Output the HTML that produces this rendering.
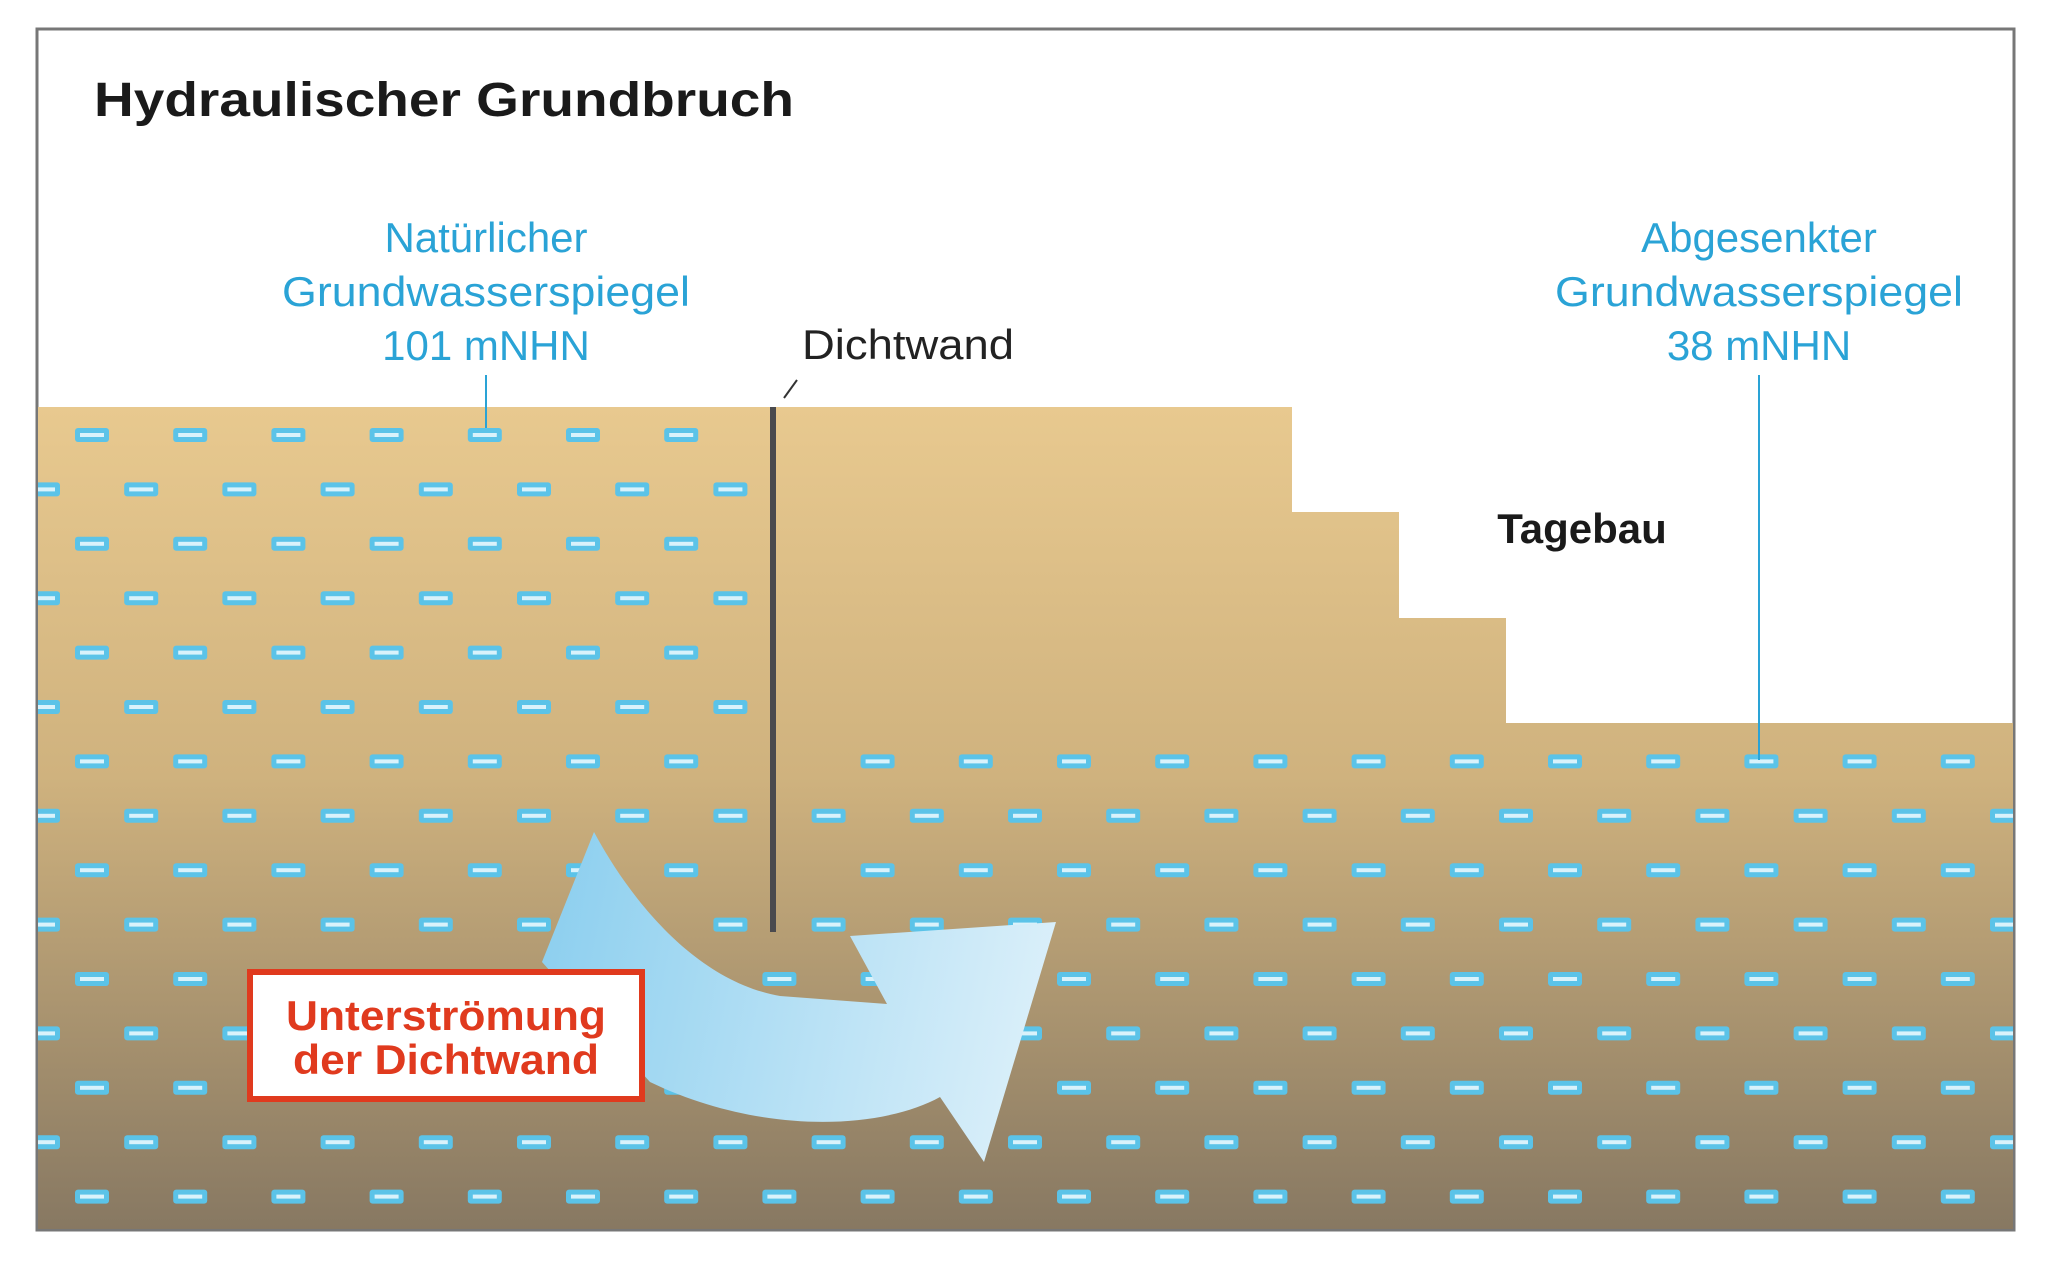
<!DOCTYPE html>
<html><head><meta charset="utf-8"><style>
html,body{margin:0;padding:0;background:#fff;}
svg{display:block;}
text{font-family:"Liberation Sans",Arial,sans-serif;}
</style></head><body>
<svg id="s" width="2048" height="1270" viewBox="0 0 2048 1270" xmlns="http://www.w3.org/2000/svg">
<defs>
<linearGradient id="g" x1="0" y1="407" x2="0" y2="1230" gradientUnits="userSpaceOnUse">
<stop offset="0" stop-color="#e8c98f"/>
<stop offset="0.45" stop-color="#cfb27e"/>
<stop offset="1" stop-color="#877862"/>
</linearGradient>
<linearGradient id="a" x1="560" y1="900" x2="1060" y2="1000" gradientUnits="userSpaceOnUse">
<stop offset="0" stop-color="#8fd0ef"/>
<stop offset="1" stop-color="#dcf0fa"/>
</linearGradient>
<clipPath id="cl"><rect x="38" y="300" width="1975" height="929"/></clipPath>
</defs>
<rect x="37" y="29" width="1977" height="1201" fill="#fff" stroke="#777" stroke-width="3"/>
<path d="M38,407 L1292,407 L1292,512 L1399,512 L1399,618 L1506,618 L1506,723 L2013,723 L2013,1229 L38,1229 Z" fill="url(#g)"/>
<g id="dashes" clip-path="url(#cl)"></g>
<line x1="773" y1="407" x2="773" y2="932" stroke="#4a4a4e" stroke-width="6"/>
<line x1="797" y1="380" x2="784" y2="398" stroke="#333" stroke-width="2"/>
<line x1="486" y1="375" x2="486" y2="428" stroke="#2aa3d6" stroke-width="2"/>
<line x1="1759" y1="375" x2="1759" y2="760" stroke="#2aa3d6" stroke-width="2"/>
<text x="94" y="116" font-size="48" font-weight="bold" fill="#1a1a1a" textLength="700" lengthAdjust="spacingAndGlyphs">Hydraulischer Grundbruch</text>
<g font-size="42" fill="#2aa3d6" text-anchor="middle">
<text x="486" y="252">Natürlicher</text>
<text x="486" y="306" textLength="408" lengthAdjust="spacingAndGlyphs">Grundwasserspiegel</text>
<text x="486" y="360">101 mNHN</text>
<text x="1759" y="252">Abgesenkter</text>
<text x="1759" y="306" textLength="408" lengthAdjust="spacingAndGlyphs">Grundwasserspiegel</text>
<text x="1759" y="360">38 mNHN</text>
</g>
<text x="802" y="359" font-size="42" fill="#222" textLength="212" lengthAdjust="spacingAndGlyphs">Dichtwand</text>
<text x="1582" y="543" font-size="42" font-weight="bold" fill="#1a1a1a" text-anchor="middle">Tagebau</text>
<path d="M594,832 C625,890 690,980 780,996 L887,1004 L850,936 L1056,922 L984,1162 L940,1097 C880,1130 760,1135 650,1082 L542,962 Z" fill="url(#a)"/>
<rect x="250" y="972" width="392" height="127" fill="#fff" stroke="#e03a1e" stroke-width="6"/>
<g font-size="42" font-weight="bold" fill="#e03a1e" text-anchor="middle">
<text x="446" y="1030" textLength="320" lengthAdjust="spacingAndGlyphs">Unterströmung</text>
<text x="446" y="1074" textLength="306" lengthAdjust="spacingAndGlyphs">der Dichtwand</text>
</g>
</svg>
<script>
var g=document.getElementById('dashes'),out='';
for(var r=0;r<15;r++){
 var y=435+r*54.4; var odd=(r%2==0);
 var x0=odd?92:43;
 for(var c=0;c<22;c++){
  var x=x0+c*98.2;
  if(x>2040)break;
  if(y<723 && x>755)continue;
  if(Math.abs(x-773)<25 && y<932)continue;
  out+='<rect x="'+(x-17)+'" y="'+(y-7)+'" width="34" height="14" rx="3" fill="#5bc3e8"/>'+
       '<rect x="'+(x-12)+'" y="'+(y-2)+'" width="24" height="4" fill="#d9f2fb"/>';
 }
}
g.innerHTML=out;
</script>
</body></html>
